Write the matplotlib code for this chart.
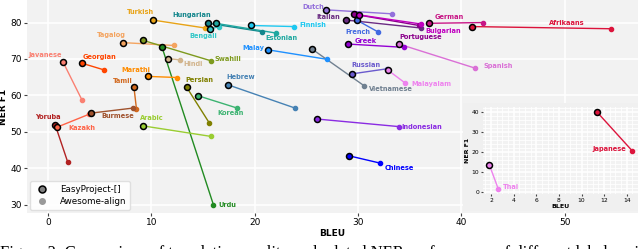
import matplotlib.pyplot as plt
from matplotlib.lines import Line2D

# main panel data: EasyProject (ep) vs Awesome-align (aa)
langs = ['Turkish', 'Hungarian', 'Bengali', 'Estonian', 'Finnish', 'Tagalog', 'Swahili', 'Urdu',
         'Hindi', 'Javanese', 'Georgian', 'Marathi', 'Tamil', 'Burmese', 'Persian', 'Korean',
         'Yoruba', 'Kazakh', 'Arabic', 'Dutch', 'Italian', 'French', 'Greek', 'Portuguese',
         'Bulgarian', 'German', 'Afrikaans', 'Spanish', 'Malayalam', 'Malay', 'Vietnamese',
         'Russian', 'Hebrew', 'Indonesian', 'Chinese']
ep_bleu = [10.1, 15.5, 15.7, 16.2, 19.6, 7.2, 9.2, 11.0, 11.6, 1.45, 3.3, 9.7, 8.3, 4.1, 13.4, 14.5,
           0.68, 0.9, 9.2, 26.9, 28.8, 29.85, 29.0, 29.6, 30.1, 36.9, 41.0, 33.95, 32.85, 21.3, 25.5,
           29.4, 17.4, 26.0, 29.1]
ep_f1 = [80.7, 79.8, 78.2, 79.8, 79.2, 74.5, 75.1, 73.4, 70.1, 69.1, 68.8, 65.2, 62.3, 55.1, 62.25, 59.9,
         51.9, 51.3, 51.6, 83.5, 80.7, 80.7, 74.1, 82.3, 82.1, 79.8, 78.9, 74.1, 67.0, 72.5, 72.8,
         65.9, 62.9, 53.5, 43.4]
aa_bleu = [15.2, 20.7, 16.5, 22.1, 23.8, 12.2, 15.75, 16.0, 12.8, 3.26, 5.4, 12.5, 8.55, 8.2, 15.6, 18.3,
           1.9, 3.95, 15.8, 33.3, 36.1, 31.95, 34.4, 35.9, 36.1, 42.05, 54.5, 41.3, 34.5, 27.0, 30.6,
           32.8, 23.9, 34.0, 32.1]
aa_f1 = [78.5, 77.5, 78.9, 77.1, 78.9, 73.7, 69.5, 29.9, 69.75, 58.8, 67.0, 64.9, 56.2, 56.5, 52.4, 56.5,
         41.6, 54.8, 48.7, 82.4, 78.5, 77.4, 73.2, 79.2, 79.6, 80.0, 78.3, 67.5, 63.5, 69.9, 62.6,
         67.3, 56.5, 51.4, 41.4]
colors = ['#E8A317', '#14868C', '#33C7C7', '#1FA8A0', '#1EC8F0', '#F4A460', '#7E9A1E', '#228B22',
          '#D2B48C', '#FA8072', '#FF4500', '#FF8C00', '#D2691E', '#A0522D', '#808000', '#3CB371',
          '#B22222', '#FF6347', '#9ACD32', '#9370DB', '#6A2C82', '#4169E1', '#9400D3', '#8B008B',
          '#C000C0', '#C71585', '#DC143C', '#DA70D6', '#EE82EE', '#1E90FF', '#708090',
          '#6A5ACD', '#4682B4', '#8A2BE2', '#0000FF']

# inset panel
in_langs = ['Thai', 'Japanese']
in_ep_bleu = [1.86, 11.4]
in_ep_f1 = [13.4, 40.0]
in_aa_bleu = [2.65, 14.5]
in_aa_f1 = [1.2, 20.5]
in_colors = ['#EE82EE', '#DC143C']

# label placement: (anchor point, dx px, dy px)
label_pos = {
    'Turkish': ('ep', -12, 8), 'Hungarian': ('ep', -17, 8),
    'Bengali': ('ep', -7, -7), 'Estonian': ('aa', 5, -5),
    'Finnish': ('aa', 19, 2), 'Tagalog': ('ep', -11, 8),
    'Swahili': ('aa', 17, 2), 'Urdu': ('aa', 14, 0),
    'Hindi': ('aa', 13, -4), 'Javanese': ('ep', -18, 7),
    'Georgian': ('ep', 17, 6), 'Marathi': ('ep', -13, 6),
    'Tamil': ('ep', -11, 6), 'Burmese': ('ep', 27, -3),
    'Persian': ('ep', 13, 7), 'Korean': ('aa', -7, -5),
    'Yoruba': ('ep', -7, 8), 'Kazakh': ('ep', 24, -1),
    'Arabic': ('ep', 9, 8), 'Dutch': ('ep', -13, 3),
    'Italian': ('ep', -17, 3), 'French': ('aa', -20, 0),
    'Greek': ('ep', 18, 3), 'Portuguese': ('aa', 2, -12),
    'Bulgarian': ('aa', 22, -7), 'German': ('ep', 20, 6),
    'Afrikaans': ('aa', -44, 6), 'Spanish': ('aa', 23, 2),
    'Malayalam': ('aa', 27, -1), 'Malay': ('ep', -15, 2),
    'Vietnamese': ('aa', 27, -3), 'Russian': ('ep', 14, 9),
    'Hebrew': ('ep', 13, 8), 'Indonesian': ('aa', 22, 0),
    'Chinese': ('aa', 20, -5),
    'Thai': ('aa', 13, 2), 'Japanese': ('aa', -23, 2),
}

BG = '#F2F2F2'


def draw_pairs(ax, names, eb, ef, ab, af, cols, ms_ep, ms_aa, fs):
    for i, name in enumerate(names):
        c = cols[i]
        ax.plot([eb[i], ab[i]], [ef[i], af[i]], color=c, lw=1.0, zorder=3)
        ax.plot(ab[i], af[i], 'o', color=c, ms=ms_aa, zorder=4)
        ax.plot(eb[i], ef[i], 'o', mfc=c, mec='black', mew=1.1, ms=ms_ep, zorder=5)
        anchor, dx, dy = label_pos[name]
        xy = (eb[i], ef[i]) if anchor == 'ep' else (ab[i], af[i])
        ax.annotate(name, xy, xytext=(dx, dy), textcoords='offset pixels', color=c,
                    fontsize=fs, fontweight='bold', ha='center', va='center', zorder=6)


def style(ax, fs):
    ax.set_facecolor(BG)
    for s in ax.spines.values():
        s.set_visible(False)
    ax.grid(True, color='white', lw=1.2)
    ax.set_axisbelow(True)
    ax.tick_params(length=2, color='#444444', labelsize=fs, pad=1.5)


fig = plt.figure(figsize=(6.4, 2.49), dpi=100)
ax = fig.add_axes([0.042, 0.145, 0.955, 0.855])
style(ax, 6.5)
draw_pairs(ax, langs, ep_bleu, ep_f1, aa_bleu, aa_f1, colors, 4.3, 3.0, 4.8)
ax.set_xlim(-2.06, 57.1)
ax.set_ylim(27.7, 86.2)
ax.set_xticks([0, 10, 20, 30, 40, 50])
ax.set_yticks([30, 40, 50, 60, 70, 80])
ax.set_xlabel('BLEU', fontsize=6.5, fontweight='bold', labelpad=1.5)
ax.set_ylabel('NER F1', fontsize=6.5, fontweight='bold', labelpad=2)

handles = [Line2D([], [], marker='o', ls='none', mfc='#808080', mec='black', mew=1.1, ms=5),
           Line2D([], [], marker='o', ls='none', color='#999999', ms=4)]
ax.legend(handles, ['EasyProject-[]', 'Awesome-align'], loc='lower left', fontsize=6.3,
          frameon=True, framealpha=0.9, edgecolor='#DDDDDD', handletextpad=1.0,
          borderaxespad=0.35, labelspacing=0.4, borderpad=0.4)

# gray backdrop behind the inset
back = fig.add_axes([0.723, 0.153, 0.274, 0.434])
back.set_facecolor('#F0F0F0')
back.set_xticks([])
back.set_yticks([])
for s in back.spines.values():
    s.set_visible(False)

ins = fig.add_axes([0.754, 0.219, 0.243, 0.351])
style(ins, 4.3)
ins.tick_params(length=1.5, pad=1)
ins.minorticks_on()
ins.grid(True, which='minor', color='white', lw=0.6)
ins.tick_params(which='minor', length=0)
draw_pairs(ins, in_langs, in_ep_bleu, in_ep_f1, in_aa_bleu, in_aa_f1, in_colors, 4.3, 3.0, 4.8)
ins.set_xlim(1.25, 15.0)
ins.set_ylim(-1.4, 42.7)
ins.set_xticks(range(2, 15, 2))
ins.set_yticks([0, 10, 20, 30, 40])
ins.set_xlabel('BLEU', fontsize=4.5, fontweight='bold', labelpad=1)
ins.set_ylabel('NER F1', fontsize=4.5, fontweight='bold', labelpad=1)

fig.text(0.0, 0.018, 'Figure 2: Comparison of translation quality and related NER performance of '
         'different label projection methods on the', family='Liberation Serif', fontsize=12,
         va='top', ha='left')

fig.savefig('out.png', dpi=100)
